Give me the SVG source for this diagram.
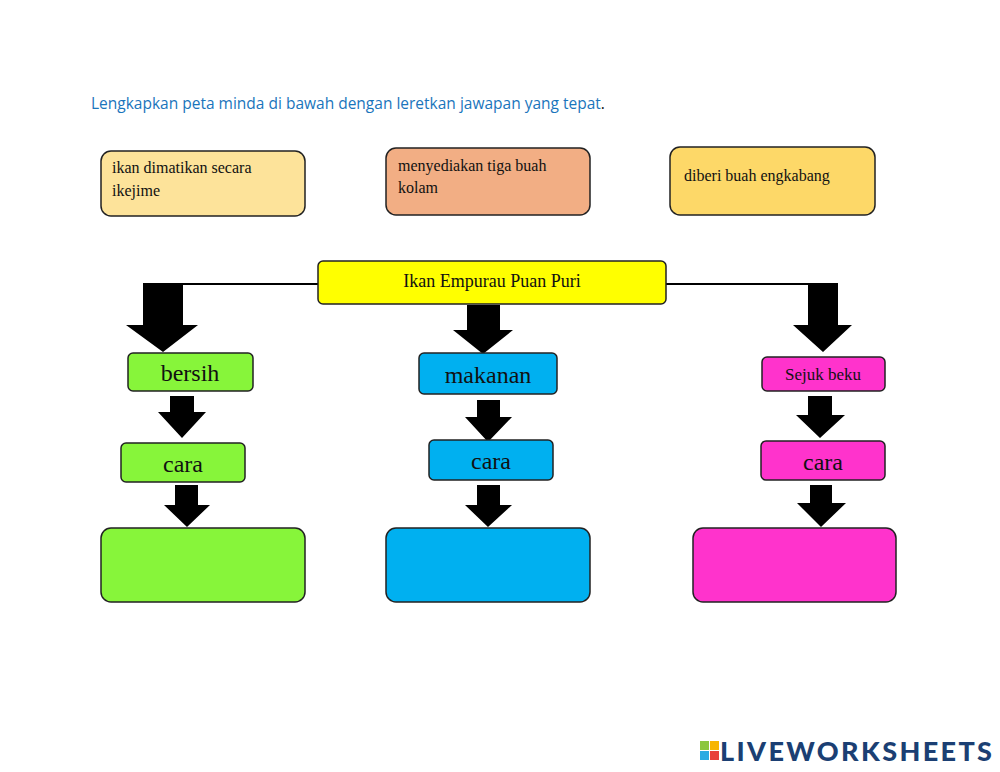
<svg xmlns="http://www.w3.org/2000/svg" width="1000" height="772" viewBox="0 0 1000 772">
<style>
.b{stroke:#222;stroke-width:1.5}
.t{font-family:"Liberation Serif",serif;fill:#111}
.a{fill:#000}
</style>
<rect width="1000" height="772" fill="#fff"/>
<text x="91" y="109" font-family="Open Sans,sans-serif" font-size="15.5" fill="#1a75bc">Lengkapkan peta minda di bawah dengan leretkan jawapan yang tepat<tspan fill="#111">.</tspan></text>
<g id="connectors">
<path d="M143 284H318M666 284H838" stroke="#000" stroke-width="2" fill="none"/>
<polygon class="a" points="143,284 183,284 183,325 198,325 163,352 126,325 143,325"/>
<polygon class="a" points="467,305 500,305 500,330 513,330 483,354 453,330 467,330"/>
<polygon class="a" points="808,284 838,284 838,325 852,325 823,352 793,325 808,325"/>
<polygon class="a" points="170,396 194,396 194,412 206,412 182,438 158,412 170,412"/>
<polygon class="a" points="175,485 198,485 198,505 210,505 187,527 164,505 175,505"/>
<polygon class="a" points="477,400 500,400 500,417 512,417 488,442 465,417 477,417"/>
<polygon class="a" points="477,485 500,485 500,505 512,505 488,527 465,505 477,505"/>
<polygon class="a" points="808,396 832,396 832,415 845,415 820,438 796,415 808,415"/>
<polygon class="a" points="810,485 832,485 832,503 846,503 821,527 797,503 810,503"/>
</g>
<g id="opt1"><rect class="b" x="101" y="151" width="204" height="65" rx="10" fill="#fde39a"/><text class="t" x="112" y="173" font-size="16">ikan dimatikan secara</text><text class="t" x="112" y="196" font-size="16">ikejime</text></g>
<g id="opt2"><rect class="b" x="386" y="148" width="204" height="67" rx="10" fill="#f2ae84"/><text class="t" x="398" y="171" font-size="16">menyediakan tiga buah</text><text class="t" x="398" y="193" font-size="16">kolam</text></g>
<g id="opt3"><rect class="b" x="670" y="147" width="205" height="68" rx="10" fill="#fdd868"/><text class="t" x="684" y="181" font-size="16">diberi buah engkabang</text></g>
<g id="center"><rect class="b" x="318" y="261" width="348" height="43" rx="5" fill="#ffff00"/><text class="t" x="492" y="287" font-size="18" text-anchor="middle">Ikan Empurau Puan Puri</text></g>
<g id="bersih"><rect class="b" x="128" y="353" width="125" height="38" rx="5" fill="#87f53a"/><text class="t" x="190" y="381" font-size="24" text-anchor="middle">bersih</text></g>
<g id="makanan"><rect class="b" x="419" y="353" width="138" height="41" rx="5" fill="#00b0f0"/><text class="t" x="488" y="383" font-size="24" text-anchor="middle">makanan</text></g>
<g id="sejuk"><rect class="b" x="762" y="357" width="123" height="34" rx="5" fill="#ff33cc"/><text class="t" x="823" y="380" font-size="17" text-anchor="middle">Sejuk beku</text></g>
<g id="caraL"><rect class="b" x="121" y="443" width="124" height="39" rx="5" fill="#87f53a"/><text class="t" x="183" y="472" font-size="24" text-anchor="middle">cara</text></g>
<g id="caraM"><rect class="b" x="429" y="440" width="124" height="40" rx="5" fill="#00b0f0"/><text class="t" x="491" y="469" font-size="24" text-anchor="middle">cara</text></g>
<g id="caraR"><rect class="b" x="761" y="441" width="124" height="39" rx="5" fill="#ff33cc"/><text class="t" x="823" y="470" font-size="24" text-anchor="middle">cara</text></g>
<g id="ansL"><rect class="b" x="101" y="528" width="204" height="74" rx="10" fill="#87f53a"/></g>
<g id="ansM"><rect class="b" x="386" y="528" width="204" height="74" rx="10" fill="#00b0f0"/></g>
<g id="ansR"><rect class="b" x="693" y="528" width="203" height="74" rx="10" fill="#ff33cc"/></g>
<g id="logo">
<rect x="700" y="741" width="9" height="9" fill="#8cc63f"/><rect x="710" y="741" width="9" height="9" fill="#f7b500"/>
<rect x="700" y="751" width="9" height="9" fill="#29abe2"/><rect x="710" y="751" width="9" height="9" fill="#e8413c"/>
<text x="720" y="761" font-family="Lato,sans-serif" font-weight="900" font-size="27" fill="#1b3f73" textLength="272">LIVEWORKSHEETS</text>
</g>
</svg>
